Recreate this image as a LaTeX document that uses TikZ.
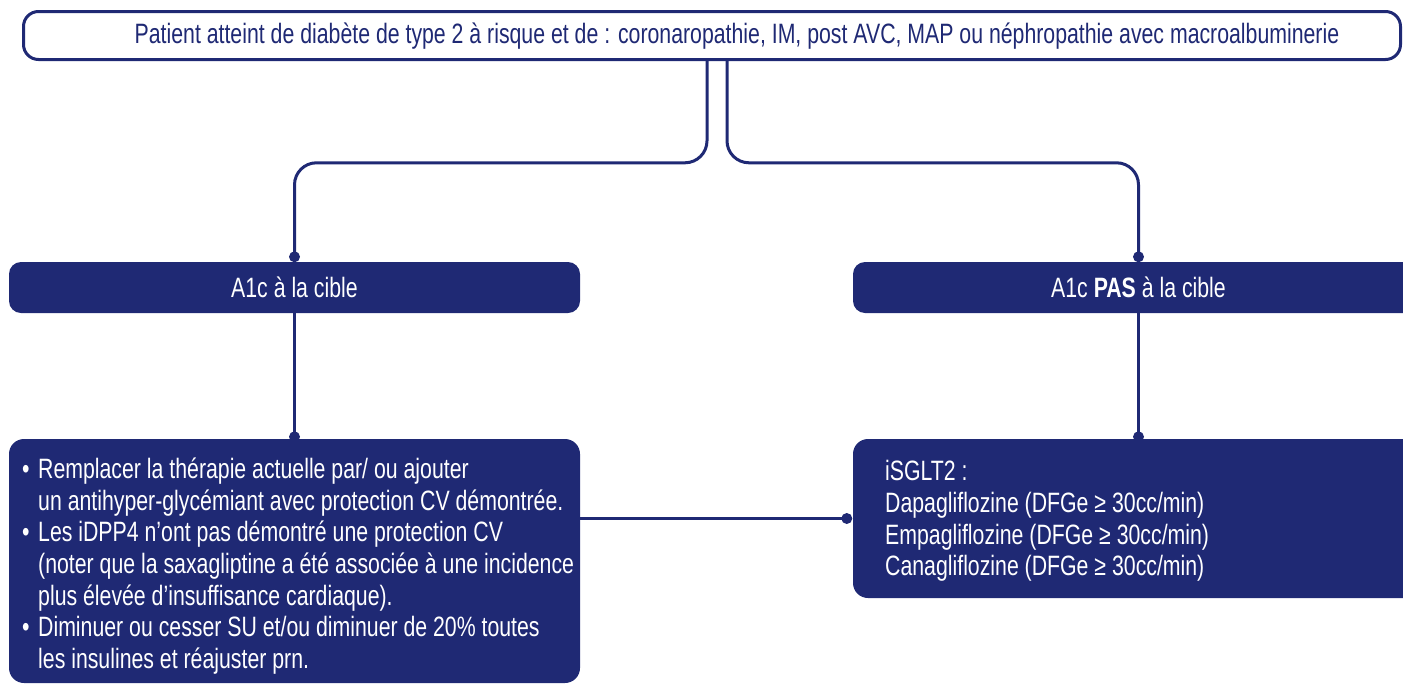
\documentclass[tikz,border=0pt]{standalone}
\usepackage{fontspec}
\setmainfont{Liberation Sans}[FakeStretch=0.76]
\usetikzlibrary{calc}
\definecolor{navy}{RGB}{31,41,116}
\begin{document}
\begin{tikzpicture}[x=1pt,y=-1pt,
  txt/.style={font=\fontsize{28}{31.6}\selectfont,inner sep=0pt},
  conn/.style={draw=navy,line width=3pt,rounded corners=22pt},
  tbox/.style={draw=navy,line width=3pt,fill=white,rounded corners=15pt,minimum width=1377pt,minimum height=48pt,inner sep=0pt},
  hbox/.style={fill=navy,rounded corners=12pt,minimum width=571pt,minimum height=51pt,inner sep=0pt,text=white,txt},
  bbox/.style={fill=navy,rounded corners=15pt,minimum width=571pt,inner sep=0pt},
  btxt/.style={txt,text=white,align=left,anchor=west},
  dotc/.style={fill=navy}]
\clip (0,0) rectangle (1403,683);
% top box
\node[tbox] (top) at (712,35.5) {};
\node[txt,text=navy] (toptxt) at (737,36) {Patient atteint de diabète de type 2 à risque et de : coronaropathie, IM, post AVC, MAP ou néphropathie avec macroalbuminerie};
% level 2
\node[hbox] (a1) at (294.5,287.5) {A1c à la cible};
\node[hbox] (a2) at (1138.5,287.5) {A1c \textbf{PAS} à la cible};
% level 3
\node[bbox,minimum height=244pt] (b1) at (294.5,561) {};
\node[bbox,minimum height=159pt] (b2) at (1138.5,518.5) {};
\node[btxt] (b1t) at (22,566) {\makebox[16pt][l]{•}Remplacer la thérapie actuelle par/ ou ajouter\\
\hspace*{16pt}un antihyper-glycémiant avec protection CV démontrée.\\
\makebox[16pt][l]{•}Les iDPP4 n’ont pas démontré une protection CV\\
\hspace*{16pt}(noter que la saxagliptine a été associée à une incidence\\
\hspace*{16pt}plus élevée d’insuffisance cardiaque).\\
\makebox[16pt][l]{•}Diminuer ou cesser SU et/ou diminuer de 20\% toutes\\
\hspace*{16pt}les insulines et réajuster prn.};
\node[btxt] (b2t) at (885,521) {iSGLT2 :\\
Dapagliflozine (DFGe ≥ 30cc/min)\\
Empagliflozine (DFGe ≥ 30cc/min)\\
Canagliflozine (DFGe ≥ 30cc/min)};
% connectors
\coordinate (d1) at ([yshift=5pt]a1.north);
\coordinate (d2) at ([yshift=5pt]a2.north);
\coordinate (d3) at ([yshift=2pt]b1.north);
\coordinate (d4) at ([yshift=2pt]b2.north);
\coordinate (d5) at ([xshift=-6pt]b2.west);
\draw[conn] ([xshift=-5pt]top.south) |- ($(a1.north)+(0,-99)$) -- (d1);
\draw[conn] ([xshift=15pt]top.south) |- ($(a2.north)+(0,-99)$) -- (d2);
\draw[conn] (a1.south) -- (d3);
\draw[conn] (a2.south) -- (d4);
\draw[conn] (b1.east |- d5) -- (d5);
\foreach \d in {d1,d2,d3,d4,d5} \fill[dotc] (\d) circle (5.5pt);
\end{tikzpicture}
\end{document}
